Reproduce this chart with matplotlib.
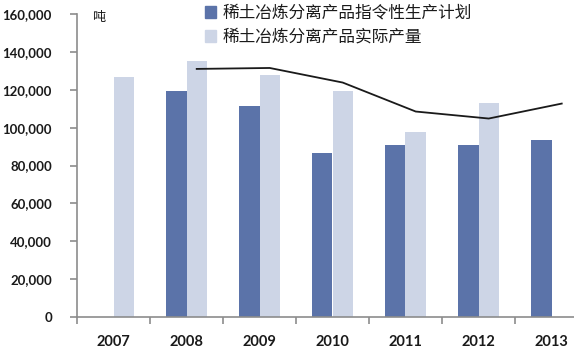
import matplotlib

matplotlib.use("Agg")
import matplotlib.pyplot as plt  # noqa: E402
import numpy as np  # noqa: E402
from matplotlib.patches import Patch  # noqa: E402

plt.rcParams["font.family"] = ["Noto Sans CJK SC", "DejaVu Sans"]

years = ["2007", "2008", "2009", "2010", "2011", "2012", "2013"]
plan = [np.nan, 119400, 111500, 86400, 90800, 90800, 93300]
actual = [126500, 135300, 127700, 119400, 97600, 112900, np.nan]
trend = [np.nan, 131000, 131500, 123800, 108500, 104800, 112700]
yticks = [0, 20000, 40000, 60000, 80000, 100000, 120000, 140000, 160000]

DARK = "#5b73a9"
LIGHT = "#cdd5e6"
AXIS = "#8c8c8c"

fig = plt.figure(figsize=(5.74, 3.51), dpi=100)
# right edge runs past the figure, like the cropped original
ax = fig.add_axes([77 / 574, 34 / 351, 511 / 574, 303 / 351])

x = np.arange(len(years))
w = 0.28
ax.bar(x - w / 2, plan, w, color=DARK, linewidth=0)
ax.bar(x + w / 2, actual, w, color=LIGHT, linewidth=0)
ax.plot(x + w / 2, trend, color="#1a1a1a", linewidth=1.3)

ax.set_xlim(-0.5, len(years) - 0.5)
ax.set_ylim(0, 160000)
ax.set_yticks(yticks)
ax.set_yticklabels([f"{v:,}" for v in yticks])
ax.set_xticks(x)
ax.set_xticklabels(years)
ax.set_xticks(np.arange(-0.5, len(years)), minor=True)

for side in ("top", "right"):
    ax.spines[side].set_visible(False)
for side in ("left", "bottom"):
    ax.spines[side].set_color(AXIS)
    ax.spines[side].set_linewidth(1.2)

ax.tick_params(axis="y", direction="out", length=5, color=AXIS, width=1.2, pad=13)
ax.tick_params(axis="x", which="major", length=0, pad=13)
ax.tick_params(axis="x", which="minor", direction="out", length=5, color=AXIS, width=1.2)
for lab in ax.get_yticklabels():
    lab.set_fontsize(9.5)
for lab in ax.get_xticklabels():
    lab.set_fontsize(10.5)
for lab in ax.get_yticklabels() + ax.get_xticklabels():
    lab.set_family("Lato")
    lab.set_fontweight("bold")
    lab.set_color("#1a1a1a")

ax.text(92 / 574, 1 - 17 / 351, "吨", transform=fig.transFigure,
        fontsize=9.5, va="center", ha="left", color="#1a1a1a")

handles = [Patch(color=DARK, label="稀土冶炼分离产品指令性生产计划"),
           Patch(color=LIGHT, label="稀土冶炼分离产品实际产量")]
fig.legend(handles=handles, loc="upper left", bbox_to_anchor=(198 / 574, 1.005),
           frameon=False, fontsize=12, handlelength=0.7, handleheight=0.7,
           handletextpad=0.35, labelspacing=0.4, borderaxespad=0,
           labelcolor="#1a1a1a")

fig.savefig("out.png", dpi=100)
